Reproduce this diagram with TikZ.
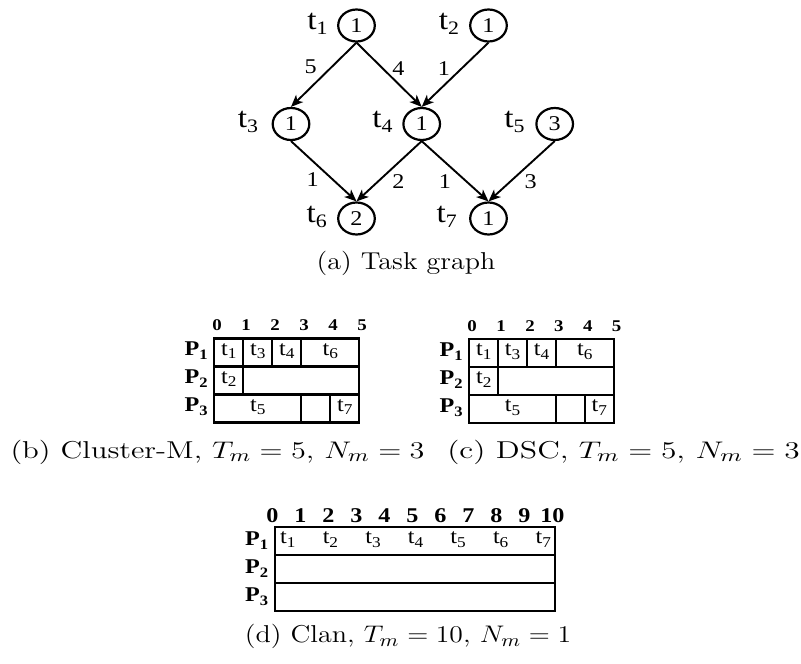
\documentclass[tikz,border=0pt]{standalone}
\usepackage{fontspec}
\newfontfamily\tms{Liberation Serif}
\usetikzlibrary{shapes.geometric,arrows.meta}
\newcommand{\sx}[1]{\scalebox{1.15}[1]{#1}}
\newcommand{\glab}[1]{\sx{\tms\fontsize{14.5}{15}\selectfont t\raisebox{-2.6pt}{\fontsize{9.5}{10}\selectfont #1}}}
\newcommand{\clab}[1]{\sx{\tms\fontsize{10.5}{11}\selectfont t\raisebox{-1.7pt}{\fontsize{7.5}{8}\selectfont #1}}}
\newcommand{\plab}[1]{\sx{\tms\bfseries\fontsize{10.5}{11}\selectfont P\raisebox{-2pt}{\fontsize{7.2}{8}\selectfont #1}}}
\newcommand{\caplab}[1]{\sx{\fontsize{12.2}{14}\selectfont #1}}
\newcommand{\capwide}[2]{\scalebox{#1}[1]{\fontsize{12.2}{14}\selectfont #2}}
\tikzset{
  tnode/.style={ellipse, draw, line width=1.1pt, minimum width=18.3pt, minimum height=16pt, inner sep=0pt, font=\tms\fontsize{10.5}{11}\selectfont},
  tedge/.style={line width=0.95pt, -{Stealth[length=6pt,width=5pt,inset=1.6pt]}},
  elab/.style={inner sep=0pt, font=\tms\fontsize{10.5}{11}\selectfont},
  nlab/.style={inner sep=0pt},
  gline/.style={line width=1.05pt},
  numb/.style={inner sep=0pt, font=\tms\bfseries\fontsize{8.2}{9}\selectfont},
  numd/.style={inner sep=0pt, font=\tms\bfseries\fontsize{10.5}{11}\selectfont},
  captxt/.style={inner sep=0pt}
}
\begin{document}
\begin{tikzpicture}[x=0.5pt,y=-0.5pt]
\useasboundingbox (0,0) rectangle (801,663);
% task graph
\node[tnode] (t1) at (356.5,25.5) {\sx{1}};
\node[tnode] (t2) at (488.5,25.5) {\sx{1}};
\node[tnode] (t3) at (291,124) {\sx{1}};
\node[tnode] (t4) at (421.7,124) {\sx{1}};
\node[tnode] (t5) at (554.7,124) {\sx{3}};
\node[tnode] (t6) at (356.5,218.5) {\sx{2}};
\node[tnode] (t7) at (488.5,218.5) {\sx{1}};
\node[nlab] (n1) at (317.5,24) {\glab{1}};
\node[nlab] (n2) at (449,24) {\glab{2}};
\node[nlab] (n3) at (248,122) {\glab{3}};
\node[nlab] (n4) at (382.5,122) {\glab{4}};
\node[nlab] (n5) at (514.5,122) {\glab{5}};
\node[nlab] (n6) at (316.7,217) {\glab{6}};
\node[nlab] (n7) at (446.7,217) {\glab{7}};
\draw[tedge] (t1.south) -- (t3.north);
\draw[tedge] (t1.south) -- (t4.north);
\draw[tedge] (t2.south) -- (t4.north);
\draw[tedge] (t3.south) -- (t6.north);
\draw[tedge] (t4.south) -- (t6.north);
\draw[tedge] (t4.south) -- (t7.north);
\draw[tedge] (t5.south) -- (t7.north);
\node[elab] (e13) at (310.7,66.7) {\sx{5}};
\node[elab] (e14) at (398.3,68.3) {\sx{4}};
\node[elab] (e24) at (444,68.3) {\sx{1}};
\node[elab] (e36) at (312.7,180) {\sx{1}};
\node[elab] (e46) at (398.3,181.7) {\sx{2}};
\node[elab] (e47) at (445,181.7) {\sx{1}};
\node[elab] (e57) at (530.7,181.7) {\sx{3}};
\node[captxt] (capa) at (406,263.5) {\caplab{(a) Task graph}};
% gantt b
\begin{scope}[shift={(214.3,338.5)}, x=14.5pt, y=-14pt]
  \draw[gline] (0,0) rectangle (5,3);
  \draw[gline] (0,1) -- (5,1) (0,2) -- (5,2);
  \draw[gline] (1,0) -- (1,2) (2,0) -- (2,1) (3,0) -- (3,1);
  \draw[gline] (3,2) -- (3,3) (4,2) -- (4,3);
  \foreach \i in {0,...,5} \node[numb] (bn\i) at (\i+0.1,-0.47) {\sx{\i}};
  \node[nlab] (bp1) at (-0.63,0.45) {\plab{1}};
  \node[nlab] (bp2) at (-0.63,1.45) {\plab{2}};
  \node[nlab] (bp3) at (-0.63,2.45) {\plab{3}};
  \node[nlab] (bc1) at (0.5,0.45) {\clab{1}};
  \node[nlab] (bc3) at (1.5,0.45) {\clab{3}};
  \node[nlab] (bc4) at (2.5,0.45) {\clab{4}};
  \node[nlab] (bc6) at (4,0.45) {\clab{6}};
  \node[nlab] (bc2) at (0.5,1.45) {\clab{2}};
  \node[nlab] (bc5) at (1.5,2.45) {\clab{5}};
  \node[nlab] (bc7) at (4.5,2.45) {\clab{7}};
\end{scope}
% gantt c
\begin{scope}[shift={(469.3,339)}, x=14.45pt, y=-14pt]
  \draw[gline] (0,0) rectangle (5,3);
  \draw[gline] (0,1) -- (5,1) (0,2) -- (5,2);
  \draw[gline] (1,0) -- (1,2) (2,0) -- (2,1) (3,0) -- (3,1);
  \draw[gline] (3,2) -- (3,3) (4,2) -- (4,3);
  \foreach \i in {0,...,5} \node[numb] (cn\i) at (\i+0.1,-0.47) {\sx{\i}};
  \node[nlab] (cp1) at (-0.63,0.45) {\plab{1}};
  \node[nlab] (cp2) at (-0.63,1.45) {\plab{2}};
  \node[nlab] (cp3) at (-0.63,2.45) {\plab{3}};
  \node[nlab] (cc1) at (0.5,0.45) {\clab{1}};
  \node[nlab] (cc3) at (1.5,0.45) {\clab{3}};
  \node[nlab] (cc4) at (2.5,0.45) {\clab{4}};
  \node[nlab] (cc6) at (4,0.45) {\clab{6}};
  \node[nlab] (cc2) at (0.5,1.45) {\clab{2}};
  \node[nlab] (cc5) at (1.5,2.45) {\clab{5}};
  \node[nlab] (cc7) at (4.5,2.45) {\clab{7}};
\end{scope}
\node[captxt] (capb) at (217.5,452) {\capwide{1.26}{(b) Cluster-M, $T_m = 5$, $N_m = 3$}};
\node[captxt] (capc) at (623.5,452) {\capwide{1.31}{(c) DSC, $T_m = 5$, $N_m = 3$}};
% gantt d
\begin{scope}[shift={(275,527)}, x=14pt, y=-14pt]
  \draw[gline] (0,0) rectangle (10,3);
  \draw[gline] (0,1) -- (10,1) (0,2) -- (10,2);
  \foreach \i in {0,...,10} \node[numd] (dn\i) at (\i-0.09,-0.42) {\sx{\i}};
  \node[nlab] (dp1) at (-0.66,0.5) {\plab{1}};
  \node[nlab] (dp2) at (-0.66,1.5) {\plab{2}};
  \node[nlab] (dp3) at (-0.66,2.5) {\plab{3}};
  \foreach \i in {1,...,7} \node[nlab] (dc\i) at ({0.46+1.52*(\i-1)},0.45) {\clab{\i}};
\end{scope}
\node[captxt] (capd) at (408,636.5) {\caplab{(d) Clan, $T_m = 10$, $N_m = 1$}};
\end{tikzpicture}
\end{document}
